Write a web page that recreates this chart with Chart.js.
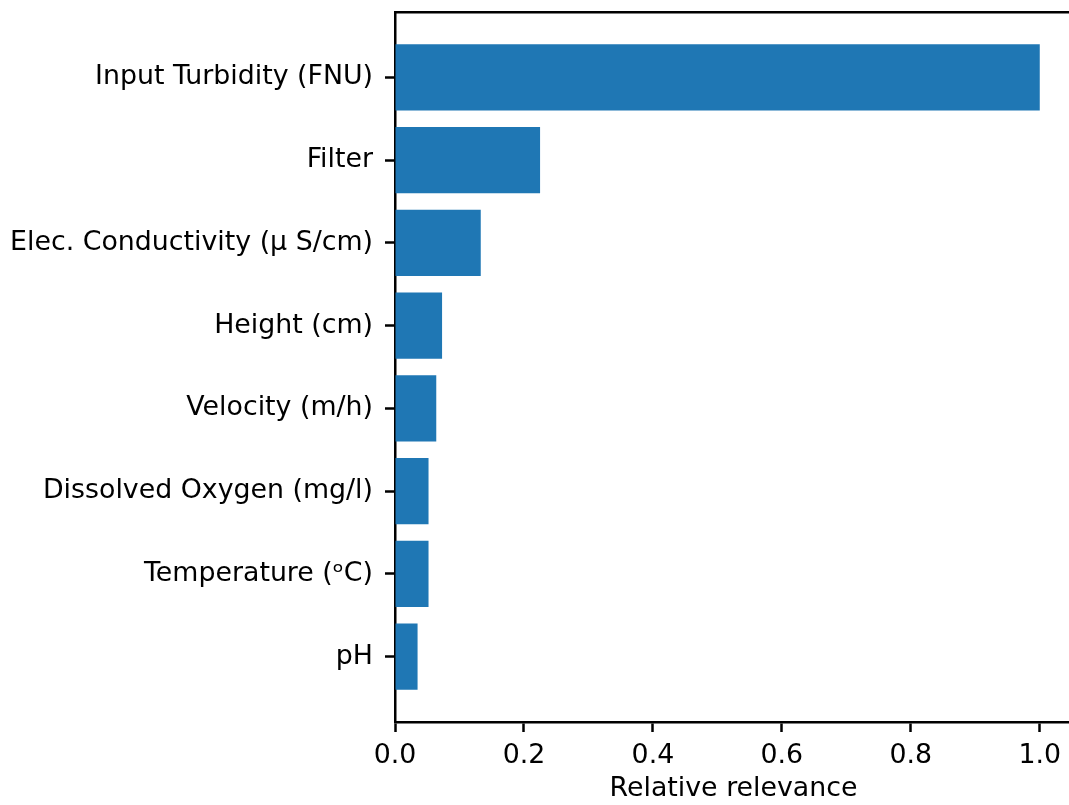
<!DOCTYPE html>
<html>
<head>
<meta charset="utf-8">
<script src="https://cdn.jsdelivr.net/npm/chart.js@4/dist/chart.umd.min.js"></script>
<style>
  html, body { margin: 0; padding: 0; background: #fff; overflow: hidden; }
  #wrap { width: 1080px; height: 805px; }
</style>
</head>
<body>
<div id="wrap"><canvas id="c" width="1080" height="805"></canvas></div>
<script>
// Feature names, top to bottom
const features = [
  'Input Turbidity (FNU)',
  'Filter',
  'Elec. Conductivity (\u03BC S/cm)',
  'Height (cm)',
  'Velocity (m/h)',
  'Dissolved Oxygen (mg/l)',
  'Temperature (\u1D52C)',
  'pH'
];
// Relative relevance of each feature
const relevance = [1.0, 0.225, 0.133, 0.073, 0.064, 0.052, 0.052, 0.035];
// x-axis tick values
const xTicks = [0.0, 0.2, 0.4, 0.6, 0.8, 1.0];

const FONT = { family: 'DejaVu Sans', size: 26.8 };
const BLACK = '#000000';
const SPINE = 2.5;

new Chart(document.getElementById('c'), {
  type: 'bar',
  data: {
    datasets: [{
      data: relevance.map((v, i) => ({ x: v, y: i })),
      backgroundColor: '#1f77b4',
      borderWidth: 0,
      barPercentage: 0.8,
      categoryPercentage: 1.0
    }]
  },
  options: {
    indexAxis: 'y',
    responsive: false,
    animation: false,
    layout: { padding: { left: 0, right: 8, top: 0, bottom: 0 } },
    plugins: { legend: { display: false }, tooltip: { enabled: false } },
    scales: {
      y: {
        type: 'linear',
        position: 'left',
        reverse: true,
        offset: false,
        min: -0.79,
        max: 7.79,
        afterBuildTicks: (s) => { s.ticks = features.map((_, i) => ({ value: i })); },
        afterFit: (s) => { s.width = 395; s.paddingTop = 0; s.paddingBottom = 0; },
        border: { display: true, color: BLACK, width: SPINE },
        grid: { offset: false, drawOnChartArea: false, drawTicks: true, tickLength: 10, tickWidth: SPINE, tickColor: BLACK },
        ticks: {
          autoSkip: false,
          padding: 12,
          color: BLACK,
          font: FONT,
          callback: (v) => features[v] ?? ''
        }
      },
      x: {
        type: 'linear',
        position: 'bottom',
        min: 0,
        max: 1.05,
        afterBuildTicks: (s) => { s.ticks = xTicks.map(v => ({ value: v })); },
        afterFit: (s) => { s.height = 83; s.paddingLeft = 0; s.paddingRight = 0; },
        border: { display: true, color: BLACK, width: SPINE },
        grid: { drawOnChartArea: false, drawTicks: true, tickLength: 10, tickWidth: SPINE, tickColor: BLACK },
        ticks: {
          autoSkip: false,
          padding: 8,
          maxRotation: 0,
          color: BLACK,
          font: FONT,
          callback: (v) => Number(v).toFixed(1)
        },
        title: {
          display: true,
          text: 'Relative relevance',
          color: BLACK,
          font: FONT,
          padding: { top: 0, bottom: 0 }
        }
      },
      xTop: {
        type: 'linear',
        position: 'top',
        min: 0,
        max: 1.05,
        afterFit: (s) => { s.height = 12; },
        border: { display: true, color: BLACK, width: SPINE },
        grid: { display: false, drawTicks: false },
        ticks: { display: false }
      }
    }
  }
});
</script>
</body>
</html>
